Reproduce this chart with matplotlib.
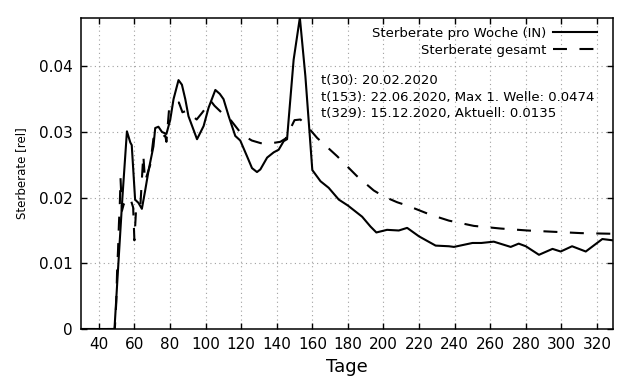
import numpy as np
import matplotlib
matplotlib.use("Agg")
import matplotlib.pyplot as plt
from matplotlib.ticker import FuncFormatter

# Sterberate pro Woche (IN)
tage_woche = [30, 48.8, 51, 53.3, 55.8, 57.7, 58.5, 60.4, 62.3, 64.2, 66, 68,
              70.7, 71.7, 73.5, 75.5, 78, 80.1, 82, 84.8, 86.7, 88.6, 90.4,
              95.2, 98.9, 101.7, 105.5, 108, 110.1, 113, 116.7, 119.5, 123.3,
              126.1, 128.9, 130.8, 134.6, 138.3, 141.1, 143.9, 145.8, 146.7,
              149.5, 153, 156.1, 160, 164.6, 169.2, 174.9, 180, 188, 192.7,
              196, 202, 208.6, 213.3, 220, 229.3, 236.8, 239.6, 250, 255, 262,
              271.5, 276, 280, 287.4, 295, 299.6, 306, 313.7, 323, 329]
rate_woche = [0, 0, 0.0100, 0.0202, 0.0301, 0.0284, 0.0280, 0.0197, 0.0192,
              0.0183, 0.0210, 0.0242, 0.0278, 0.0306, 0.0308, 0.0300, 0.0297,
              0.0318, 0.0350, 0.0379, 0.0372, 0.0350, 0.0324, 0.0289, 0.0309,
              0.0337, 0.0364, 0.0358, 0.0350, 0.0324, 0.0294, 0.0287, 0.0263,
              0.0245, 0.0239, 0.0243, 0.0261, 0.0269, 0.0273, 0.0286, 0.0289,
              0.0319, 0.0410, 0.0474, 0.0385, 0.0242, 0.0225, 0.0215, 0.0197,
              0.0188, 0.0171, 0.0156, 0.0147, 0.0151, 0.0150, 0.0154, 0.0141,
              0.0127, 0.0126, 0.0125, 0.0131, 0.0131, 0.0133, 0.0125, 0.0130,
              0.0126, 0.0113, 0.0122, 0.0118, 0.0126, 0.0118, 0.0137, 0.0135]

# Sterberate gesamt
tage_gesamt = [30, 49, 49.8, 50.3, 50.8, 51.3, 51.8, 52.2, 53, 54, 55.8, 57.6,
               59.3, 60, 61, 63.3, 65, 66, 68.9, 70.7, 73, 77.3, 78, 79.5, 83,
               85, 87, 89, 95, 98, 103, 105, 110, 113, 120.5, 126, 131, 135,
               142, 145, 150, 153.3, 157, 162.7, 174, 185, 194.5, 200, 207.7,
               213.3, 226.4, 236.8, 250.8, 265.8, 280.9, 295.9, 311, 329]
rate_gesamt = [0, 0, 0.0040, 0.0090, 0.0120, 0.0160, 0.0190, 0.0230, 0.0180,
               0.0190, 0.0195, 0.0200, 0.0185, 0.0135, 0.0185, 0.0185, 0.0265,
               0.0225, 0.0250, 0.0290, 0.0285, 0.0295, 0.0285, 0.0335, 0.0340,
               0.0345, 0.0330, 0.0332, 0.0319, 0.0329, 0.0347, 0.0340, 0.0327,
               0.0322, 0.0296, 0.0287, 0.0283, 0.0282, 0.0285, 0.0290, 0.0318,
               0.0319, 0.0309, 0.0291, 0.0263, 0.0233, 0.0211, 0.0202, 0.0193,
               0.0188, 0.0174, 0.0165, 0.0157, 0.0153, 0.0150, 0.0148, 0.0146,
               0.0145]

x_ticks = list(range(40, 321, 20))
y_ticks = [0, 0.01, 0.02, 0.03, 0.04]

info_lines = [
    "t(30): 20.02.2020",
    "t(153): 22.06.2020, Max 1. Welle: 0.0474",
    "t(329): 15.12.2020, Aktuell: 0.0135",
]

plt.rcParams["font.family"] = "DejaVu Sans"

fig = plt.figure(figsize=(6.4, 3.84), dpi=100)
ax = fig.add_axes([0.1266, 0.1432, 0.8312, 0.8107])

ax.plot(tage_woche, rate_woche, color="black", lw=1.5,
        label="Sterberate pro Woche (IN)")
line2, = ax.plot(tage_gesamt, rate_gesamt, color="black", lw=1.5,
                 label="Sterberate gesamt")
line2.set_dashes((6.7, 6))

ax.set_xlim(tage_woche[0], tage_woche[-1])
ax.set_ylim(0, max(rate_woche))
ax.set_xticks(x_ticks)
ax.set_yticks(y_ticks)
ax.yaxis.set_major_formatter(FuncFormatter(lambda v, p: "0" if v == 0 else "%.2f" % v))

ax.grid(True, color="#a0a0a0", linestyle=(0, (1, 3)), linewidth=0.8)
ax.tick_params(direction="in", top=True, right=True, length=4.5, width=1,
               labelsize=11, pad=6)
for s in ax.spines.values():
    s.set_linewidth(1.1)

ax.set_xlabel("Tage", fontsize=13, labelpad=4)
ax.set_ylabel("Sterberate [rel]", fontsize=8.5, labelpad=8)

ax.legend(loc="upper right", bbox_to_anchor=(0.970, 0.970), frameon=False,
          markerfirst=False, fontsize=9.5, handlelength=3.3,
          handletextpad=0.55, borderpad=0, borderaxespad=0, labelspacing=0.3)

ax.text(0.451, 0.818, "\n".join(info_lines), transform=ax.transAxes,
        fontsize=9.5, va="top", ha="left", linespacing=1.33)

fig.savefig("out.png", dpi=100)
